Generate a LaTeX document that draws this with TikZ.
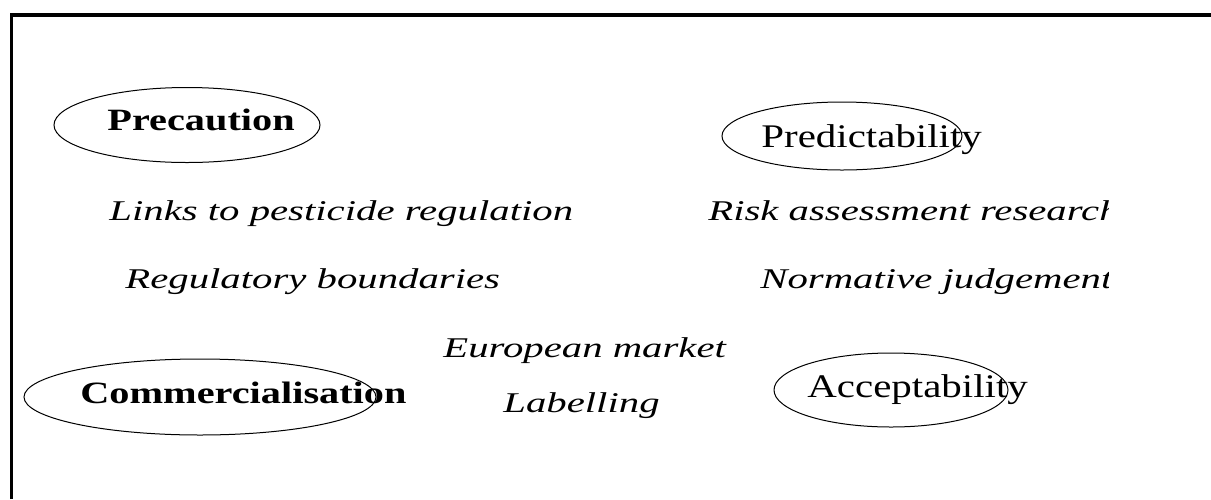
\documentclass[tikz,border=0pt]{standalone}
\usepackage{fontspec}
\setmainfont{Liberation Serif}
\newfontfamily\themefont[FakeStretch=1.3]{Liberation Serif}
\newfontfamily\valuefont[FakeStretch=1.24]{Liberation Serif}
\newfontfamily\issuefont[FakeStretch=1.425]{Liberation Serif}
\usetikzlibrary{shapes.geometric}

\begin{document}
\begin{tikzpicture}[x=0.5pt,y=-0.5pt,
    theme/.style={anchor=base west,inner sep=0pt,font=\themefont\fontsize{15.5}{18}\selectfont\bfseries},
    value/.style={anchor=base west,inner sep=0pt,font=\valuefont\fontsize{16.5}{19}\selectfont},
    issue/.style={anchor=base west,inner sep=0pt,font=\issuefont\fontsize{14.3}{17}\selectfont\itshape},
    ring/.style={draw,ellipse,line width=0.5pt,inner sep=0pt}]
    \useasboundingbox (0,0) rectangle (1211,499);
    \draw[line width=1.75pt] (11.3,499) -- (11.3,15) -- (1211,15);

    \node[ring,minimum width=133pt,minimum height=37.5pt] (precring)  at (187,125) {};
    \node[ring,minimum width=120pt,minimum height=34pt]   (predring)  at (842,136) {};
    \node[ring,minimum width=176pt,minimum height=38pt]   (commring)  at (200,397) {};
    \node[ring,minimum width=117pt,minimum height=37pt]   (accring)   at (891,390) {};

    \node[theme] (prec) at (107,130) {Precaution};
    \node[value] (pred) at (761,147) {Predictability};
    \node[theme] (comm) at (80,403)  {Commercialisation};
    \node[value] (acc)  at (807,397) {Acceptability};

    \node[issue] (links)  at (109,220) {Links to pesticide regulation};
    \node[issue] (bounds) at (125,288) {Regulatory boundaries};
    \node[issue] (market) at (443,357) {European market};
    \node[issue] (label)  at (503,412) {Labelling};
    \begin{scope}
      \clip (0,0) rectangle (1108,499);
      \node[issue] (risk)  at (708,220) {Risk assessment research};
      \node[issue] (norm)  at (760,288) {Normative judgement};
    \end{scope}
  \end{tikzpicture}
\end{document}
